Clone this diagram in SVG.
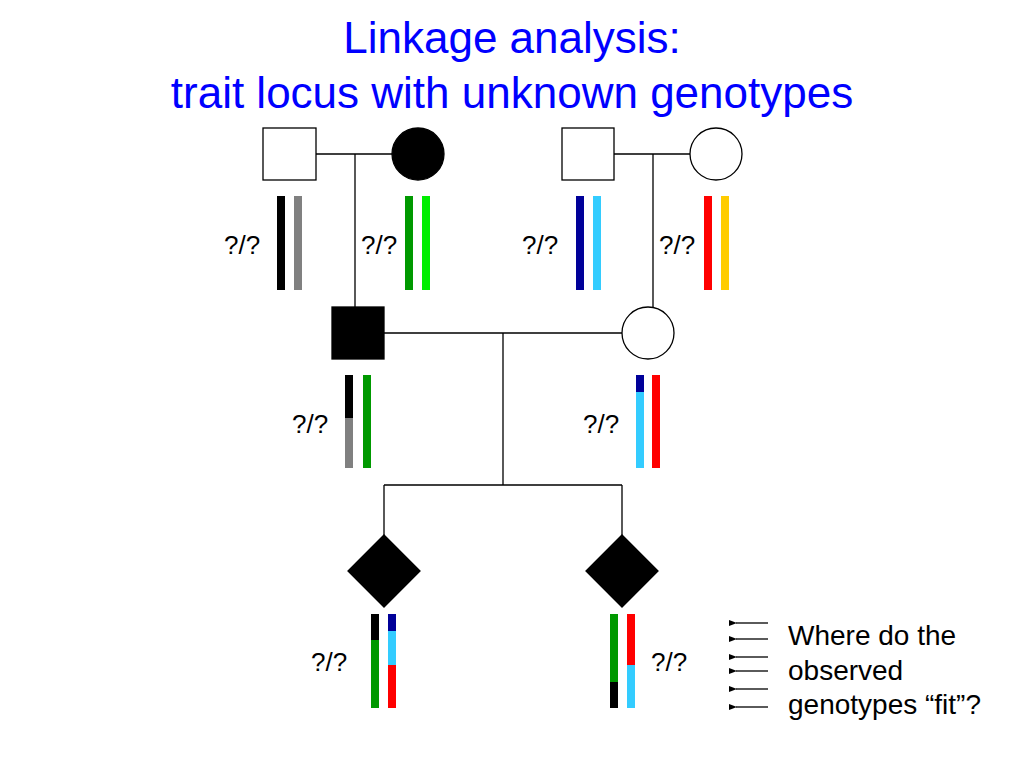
<svg xmlns="http://www.w3.org/2000/svg" width="1024" height="768" viewBox="0 0 1024 768">
<style>
text{font-family:"Liberation Sans",Arial,sans-serif}
.t{fill:#0000ff;font-size:44px;text-anchor:middle}
.l{font-size:26px;fill:#000}
.s{fill:#fff;stroke:#000;stroke-width:1.3}
.f{fill:#000;stroke:#000;stroke-width:1.3}
.ln{stroke:#000;stroke-width:1.3;fill:none}
.q{font-size:28px;fill:#000}
</style>
<defs><marker id="a" markerWidth="8" markerHeight="6" refX="1" refY="3" orient="auto" markerUnits="userSpaceOnUse"><path d="M8,0 L0,3 L8,6 Z" fill="#000"/></marker></defs>
<rect width="1024" height="768" fill="#fff"/>
<text class="t" x="512" y="53">Linkage analysis:</text>
<text class="t" x="512" y="108">trait locus with unknown genotypes</text>
<g id="connectors">
<path class="ln" d="M316,154H392M355,154V307M614,154H690M653,154V307M384,333H622M503,333V485M384,485H622M384,485V535M622,485V535"/>
</g>
<g id="gp1"><rect class="s" x="263" y="128" width="53" height="52"/></g>
<g id="gm1"><circle class="f" cx="418" cy="154" r="26"/></g>
<g id="gp2"><rect class="s" x="562" y="128" width="52" height="52"/></g>
<g id="gm2"><circle class="s" cx="716" cy="154" r="26"/></g>
<g id="father"><rect class="f" x="332" y="307" width="52" height="52"/></g>
<g id="mother"><circle class="s" cx="648" cy="333" r="26"/></g>
<g id="child1"><path class="f" d="M384,535L420,571L384,607L348,571Z"/></g>
<g id="child2"><path class="f" d="M622,535L658,571L622,607L586,571Z"/></g>
<g id="bars">
<rect x="277" y="196" width="8" height="94" fill="#000"/><rect x="294" y="196" width="8" height="94" fill="#808080"/>
<rect x="405" y="196" width="8" height="94" fill="#009900"/><rect x="422" y="196" width="8" height="94" fill="#00ee00"/>
<rect x="576" y="196" width="8" height="94" fill="#000099"/><rect x="593" y="196" width="8" height="94" fill="#33ccff"/>
<rect x="704" y="196" width="8" height="94" fill="#ff0000"/><rect x="721" y="196" width="8" height="94" fill="#ffcc00"/>
<rect x="345" y="375" width="8" height="43" fill="#000"/><rect x="345" y="418" width="8" height="50" fill="#808080"/>
<rect x="363" y="375" width="8" height="93" fill="#009900"/>
<rect x="636" y="375" width="8" height="17" fill="#000099"/><rect x="636" y="392" width="8" height="76" fill="#33ccff"/>
<rect x="652" y="375" width="8" height="93" fill="#ff0000"/>
<rect x="371" y="614" width="8" height="26" fill="#000"/><rect x="371" y="640" width="8" height="68" fill="#009900"/>
<rect x="388" y="614" width="8" height="17" fill="#000099"/><rect x="388" y="631" width="8" height="34" fill="#33ccff"/><rect x="388" y="665" width="8" height="43" fill="#ff0000"/>
<rect x="610" y="614" width="8" height="68" fill="#009900"/><rect x="610" y="682" width="8" height="26" fill="#000"/>
<rect x="627" y="614" width="8" height="51" fill="#ff0000"/><rect x="627" y="665" width="8" height="43" fill="#33ccff"/>
</g>
<g id="labels">
<text class="l" x="224" y="254">?/?</text>
<text class="l" x="361" y="254">?/?</text>
<text class="l" x="522" y="254">?/?</text>
<text class="l" x="659" y="254">?/?</text>
<text class="l" x="292" y="433">?/?</text>
<text class="l" x="583" y="433">?/?</text>
<text class="l" x="311" y="671">?/?</text>
<text class="l" x="651" y="671">?/?</text>
</g>
<g id="arrows">
<path class="ln" marker-end="url(#a)" d="M768,623H736"/>
<path class="ln" marker-end="url(#a)" d="M768,639H736"/>
<path class="ln" marker-end="url(#a)" d="M768,657H736"/>
<path class="ln" marker-end="url(#a)" d="M768,671H736"/>
<path class="ln" marker-end="url(#a)" d="M768,689H736"/>
<path class="ln" marker-end="url(#a)" d="M768,707H736"/>
</g>
<text class="q" x="788" y="645">Where do the</text>
<text class="q" x="788" y="680">observed</text>
<text class="q" x="788" y="714">genotypes “fit”?</text>
</svg>
